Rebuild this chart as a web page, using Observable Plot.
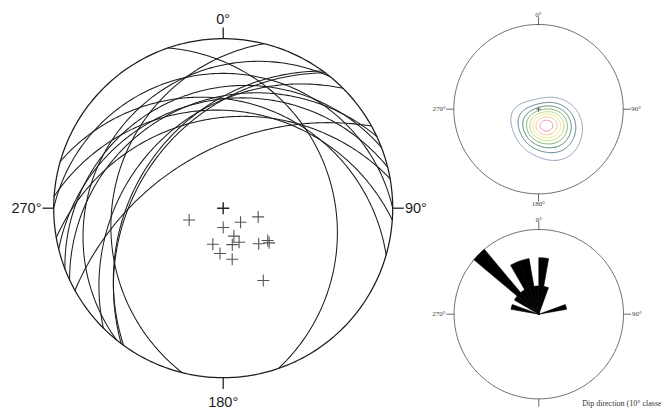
<!DOCTYPE html>
<html>
<head>
<meta charset="utf-8">
<script src="https://cdn.jsdelivr.net/npm/d3@7"></script>
<script src="https://cdn.jsdelivr.net/npm/@observablehq/plot@0.6"></script>
<style>
  html, body { margin: 0; padding: 0; background: #fff; }
  #chart { position: relative; width: 661px; height: 410px; overflow: hidden; background: #fff; }
</style>
</head>
<body>
<div id="chart"></div>
<script>
// Measured planes: dip direction and dip (degrees)
const dipDirections = [71, 0, 309, 284, 339, 335, 346, 16, 4, 350, 315, 306, 307, 331];
const dips          = [24, 13, 15, 24, 20, 25, 25, 25, 30, 34, 33, 36, 37.5, 52];

// Rose diagram of dip direction, 10° classes (class start azimuth) and counts
const roseClasses = [280, 300, 310, 320, 330, 340, 350, 0, 10, 70];
const roseCounts  = [1, 1, 3, 1, 2, 2, 1, 2, 1, 1];

// Compass labels around each net
const compassAngles = [0, 90, 180, 270];
const compassLabels = ["0°", "90°", "180°", "270°"];

// Pole density contour colours, outermost to innermost
const contourColors = ["#8394b4", "#4b6f7c", "#3b7a5c", "#6daa5a", "#b7d56e", "#eee07c", "#f2b886", "#e48aa0"];
const contourFractions = [0.12, 0.24, 0.36, 0.48, 0.6, 0.71, 0.82, 0.93];

const rad = Math.PI / 180;

// Unit vector (east, north, down) from trend/plunge
function vec(trend, plunge) {
  return [
    Math.cos(plunge * rad) * Math.sin(trend * rad),
    Math.cos(plunge * rad) * Math.cos(trend * rad),
    Math.sin(plunge * rad)
  ];
}
// Lower-hemisphere equal-angle (Wulff) projection onto the unit disc
function stereo([x, y, z]) {
  return [x / (1 + z), y / (1 + z)];
}

// Great circles sampled along each plane
const greatCircles = dipDirections.flatMap((dd, i) => {
  const s = vec(dd - 90, 0), d = vec(dd, dips[i]);
  return d3.range(0, 180.5, 1).map((a) => {
    const c = Math.cos(a * rad), n = Math.sin(a * rad);
    const [u, v] = stereo([c * s[0] + n * d[0], c * s[1] + n * d[1], c * s[2] + n * d[2]]);
    return {plane: i, u, v};
  });
});

// Poles to the planes
const poles = dipDirections.map((dd, i) => {
  const p = vec(dd + 180, 90 - dips[i]);
  const [u, v] = stereo(p);
  return {plane: i, u, v, p};
});

const primitive = d3.range(0, 361, 1).map((a) => ({u: Math.sin(a * rad), v: Math.cos(a * rad)}));
const compass = compassAngles.map((a, i) => ({angle: a, label: compassLabels[i], s: Math.sin(a * rad), c: Math.cos(a * rad)}));

// Cross symbol for pole markers
const cross = {
  draw(context, size) {
    const h = Math.sqrt(size / Math.PI);
    context.moveTo(-h, 0); context.lineTo(h, 0);
    context.moveTo(0, -h); context.lineTo(0, h);
  }
};

// Spherical (Fisher kernel) density of the poles on a grid over the disc
const N = 220, kappa = 14;
const grid = new Float64Array(N * N);
for (let j = 0; j < N; ++j) {
  for (let i = 0; i < N; ++i) {
    const u = -1 + 2 * (i + 0.5) / N, v = 1 - 2 * (j + 0.5) / N;
    const r2 = u * u + v * v;
    if (r2 > 1) continue;
    const x = 2 * u / (1 + r2), y = 2 * v / (1 + r2), z = (1 - r2) / (1 + r2);
    let s = 0;
    for (const {p} of poles) s += Math.exp(kappa * (x * p[0] + y * p[1] + z * p[2] - 1));
    grid[j * N + i] = s;
  }
}
const gmax = d3.max(grid);
const contourSets = d3.contours().size([N, N]).thresholds(contourFractions.map((f) => f * gmax))(grid);
const contourRows = [];
contourSets.forEach((set, level) => {
  set.coordinates.forEach((poly, pi) => poly.forEach((ring, ri) => {
    ring.forEach(([gx, gy]) => contourRows.push({
      level, ring: `${level}-${pi}-${ri}`, u: -1 + 2 * gx / N, v: 1 - 2 * gy / N
    }));
  }));
});

// Rose petals as filled sectors, radius proportional to count
const roseMax = d3.max(roseCounts);
const roseRows = roseClasses.flatMap((start, i) => {
  const r = roseCounts[i] / roseMax;
  const pts = [{petal: i, u: 0, v: 0}];
  for (let a = start; a <= start + 10.001; a += 1) pts.push({petal: i, u: r * Math.sin(a * rad), v: r * Math.cos(a * rad)});
  pts.push({petal: i, u: 0, v: 0});
  return pts;
});

function frame(cx, cy, R, marks, extra = {}) {
  return Plot.plot({
    width: 661, height: 410, margin: 0,
    x: {domain: [-1, 1], range: [cx - R, cx + R], axis: null},
    y: {domain: [-1, 1], range: [cy + R, cy - R], axis: null},
    style: {background: "none", position: "absolute", left: "0px", top: "0px", overflow: "visible"},
    marks,
    ...extra
  });
}

// Shared net outline: primitive, ticks and compass labels
function netMarks({tick, top, bottom, side, font, size, color, width}) {
  return [
    Plot.line(primitive, {x: "u", y: "v", stroke: color, strokeWidth: width}),
    Plot.link(compass, {x1: (d) => d.s, y1: (d) => d.c, x2: (d) => d.s * tick, y2: (d) => d.c * tick, stroke: color, strokeWidth: width}),
    Plot.text(compass.filter((d) => d.angle === 0), {x: 0, y: top, text: "label", fontFamily: font, fontSize: size, fill: color, textAnchor: "middle", lineAnchor: "middle"}),
    Plot.text(compass.filter((d) => d.angle === 180), {x: 0, y: -bottom, text: "label", fontFamily: font, fontSize: size, fill: color, textAnchor: "middle", lineAnchor: "middle"}),
    Plot.text(compass.filter((d) => d.angle === 90), {x: side, y: 0, text: "label", fontFamily: font, fontSize: size, fill: color, textAnchor: "start", lineAnchor: "middle"}),
    Plot.text(compass.filter((d) => d.angle === 270), {x: -side, y: 0, text: "label", fontFamily: font, fontSize: size, fill: color, textAnchor: "end", lineAnchor: "middle"})
  ];
}

const chart = document.getElementById("chart");

// Main net: great circles and poles
chart.append(frame(222.7, 207.7, 169.5, [
  Plot.line(greatCircles, {x: "u", y: "v", z: "plane", stroke: "#1c1c1c", strokeWidth: 1.05}),
  ...netMarks({tick: 1.066, top: 1.115, bottom: 1.146, side: 1.072, font: "Liberation Sans, Arial, sans-serif", size: 14.5, color: "#1c1c1c", width: 1.25}),
  Plot.dot([{u: 0, v: 0}], {x: "u", y: "v", symbol: cross, r: 6, stroke: "#222", strokeWidth: 1.4}),
  Plot.dot(poles, {x: "u", y: "v", symbol: cross, r: 6, stroke: "#555", strokeWidth: 1.1})
], {style: {background: "#fff", position: "absolute", left: "0px", top: "0px", overflow: "visible"}}));

// Pole density contours
chart.append(frame(538, 108.7, 84.7, [
  ...netMarks({tick: 1.09, top: 1.118, bottom: 1.12, side: 1.095, font: "Liberation Serif, serif", size: 7, color: "#444", width: 0.8}),
  Plot.line(contourRows, {x: "u", y: "v", z: "ring", stroke: "level", strokeWidth: 0.9}),
  Plot.dot([{u: 0, v: 0}], {x: "u", y: "v", symbol: cross, r: 2.5, stroke: "#555", strokeWidth: 0.8})
], {color: {type: "ordinal", domain: d3.range(contourColors.length), range: contourColors}}));

// Rose diagram of dip directions
chart.append(frame(538.3, 313.7, 84.7, [
  ...netMarks({tick: 1.09, top: 1.118, bottom: 1.16, side: 1.1, font: "Liberation Serif, serif", size: 7, color: "#444", width: 0.8}),
  Plot.line(roseRows, {x: "u", y: "v", z: "petal", fill: "#000", stroke: "#000", strokeWidth: 0.6}),
  Plot.text(["Dip direction (10° classes)"], {x: 0.512, y: -1.058, text: (d) => d, fontFamily: "Liberation Serif, serif", fontSize: 8, fill: "#333", textAnchor: "start", lineAnchor: "middle"})
]));
</script>
</body>
</html>
